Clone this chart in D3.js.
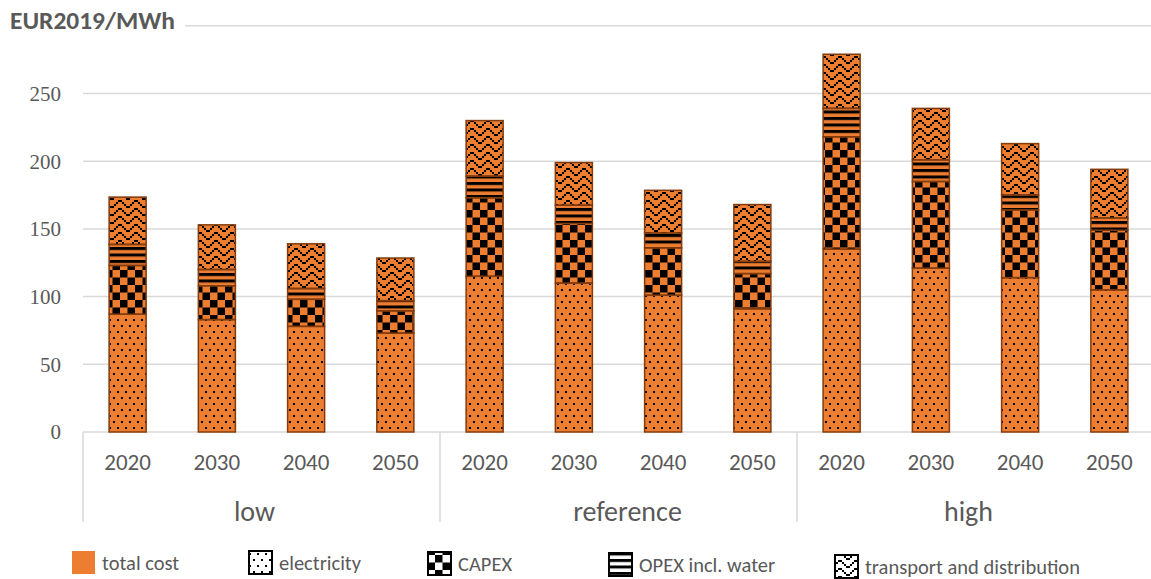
<!DOCTYPE html>
<html>
<head>
<meta charset="utf-8">
<script src="https://cdn.jsdelivr.net/npm/d3@7"></script>
<style>
  html, body { margin: 0; padding: 0; background: #fff; }
  svg { display: block; }
</style>
</head>
<body>
<svg id="chart" width="1151" height="579"></svg>
<script>
// Hydrogen cost breakdown by scenario and year (EUR2019/MWh)
const groups = ["low", "reference", "high"];
const years = ["2020", "2030", "2040", "2050"];
const electricity = [87, 83, 78, 73, 115, 110, 101, 91, 135, 121, 114, 105];
const capex = [36, 25, 20, 16.5, 58, 44, 35, 26, 83, 64, 50, 44];
const opex = [15.5, 12, 8, 7.5, 16, 13.5, 11, 9, 21, 16, 11, 9];
const transport = [35, 33, 33, 31.5, 41, 31.5, 31.5, 42, 40, 38, 38, 36];
const yTicks = [0, 50, 100, 150, 200, 250];
const yTitle = "EUR2019/MWh";
const seriesNames = ["total cost", "electricity", "CAPEX", "OPEX incl. water", "transport and distribution"];

const rows = [];
groups.forEach((g, gi) => years.forEach((yr, yi) => {
  const i = gi * years.length + yi;
  rows.push({ key: g + "-" + yr, group: g, year: yr,
    electricity: electricity[i], capex: capex[i], opex: opex[i], transport: transport[i] });
}));
rows.forEach(r => r.total = r.electricity + r.capex + r.opex + r.transport);

const svg = d3.select("#chart");
const ORANGE = "#ed7d31", EDGE = "#843c0c", GRID = "#d9d9d9", TEXT = "#595959";
const sans = "Carlito, 'Open Sans', sans-serif";
const serif = "'Liberation Serif', 'DejaVu Serif', serif";

const left = 83, right = 1154, bottom = 432;
const x = d3.scaleBand().domain(rows.map(r => r.key)).range([left, right])
  .paddingInner(0.585).paddingOuter(0.2925);
const y = d3.scaleLinear().domain([0, 300]).range([bottom, 25.8]);

// Fill patterns
const defs = svg.append("defs");
const dots = defs.append("pattern").attr("id", "pDots").attr("patternUnits", "userSpaceOnUse")
  .attr("width", 8).attr("height", 12);
dots.append("rect").attr("x", 1).attr("y", 1).attr("width", 2).attr("height", 2).attr("fill", "#000");
dots.append("rect").attr("x", 5).attr("y", 7).attr("width", 2).attr("height", 2).attr("fill", "#000");

const check = defs.append("pattern").attr("id", "pCheck").attr("patternUnits", "userSpaceOnUse")
  .attr("width", 15).attr("height", 15);
check.append("rect").attr("x", 0).attr("y", 0).attr("width", 7.5).attr("height", 7.5).attr("fill", "#000");
check.append("rect").attr("x", 7.5).attr("y", 7.5).attr("width", 7.5).attr("height", 7.5).attr("fill", "#000");

const stripe = defs.append("pattern").attr("id", "pStripe").attr("patternUnits", "userSpaceOnUse")
  .attr("width", 8).attr("height", 6.5);
stripe.append("rect").attr("x", 0).attr("y", 0).attr("width", 8).attr("height", 3).attr("fill", "#000");

const wave = defs.append("pattern").attr("id", "pWave").attr("patternUnits", "userSpaceOnUse")
  .attr("width", 16).attr("height", 8);
[6, 4, 2, 0, 0, 2, 4, 6].forEach((wy, k) => {
  wave.append("rect").attr("x", k * 2).attr("y", wy).attr("width", 2).attr("height", 2).attr("fill", "#000");
});

// Gridlines
yTicks.filter(t => t > 0).forEach(t => {
  svg.append("line").attr("x1", left).attr("x2", 1151).attr("y1", y(t)).attr("y2", y(t))
    .attr("stroke", GRID).attr("stroke-width", 1.5);
});
svg.append("line").attr("x1", 185).attr("x2", 1151).attr("y1", y(300)).attr("y2", y(300))
  .attr("stroke", GRID).attr("stroke-width", 1.5);

// Y axis labels
svg.append("g").selectAll("text").data(yTicks).join("text")
  .attr("x", 61).attr("y", d => y(d)).attr("dy", "0.35em")
  .attr("text-anchor", "end").attr("font-family", serif).attr("font-size", 21)
  .attr("fill", TEXT).text(d => d);

svg.append("text").attr("x", 10).attr("y", 29).attr("font-family", sans)
  .attr("font-weight", "bold").attr("font-size", 24).attr("fill", TEXT)
  .attr("textLength", 165).attr("lengthAdjust", "spacingAndGlyphs").text(yTitle);

// Category axis with group separators
svg.append("line").attr("x1", left).attr("x2", 1151).attr("y1", bottom).attr("y2", bottom)
  .attr("stroke", GRID).attr("stroke-width", 1.5);
const groupW = (right - left) / groups.length;
d3.range(groups.length + 1).forEach(k => {
  svg.append("line").attr("x1", left + k * groupW).attr("x2", left + k * groupW)
    .attr("y1", bottom).attr("y2", 522).attr("stroke", GRID).attr("stroke-width", 1.5);
});
svg.append("g").selectAll("text").data(rows).join("text")
  .attr("x", d => x(d.key) + x.bandwidth() / 2).attr("y", 470)
  .attr("text-anchor", "middle").attr("font-family", sans).attr("font-size", 23)
  .attr("fill", TEXT).text(d => d.year);
const groupNudge = [-7, 9, -7];
svg.append("g").selectAll("text").data(groups).join("text")
  .attr("x", (d, i) => left + (i + 0.5) * groupW + groupNudge[i]).attr("y", 521)
  .attr("text-anchor", "middle").attr("font-family", sans).attr("font-size", 28)
  .attr("fill", TEXT).text(d => d);

// Total cost bars (orange base)
svg.append("g").selectAll("rect").data(rows).join("rect")
  .attr("x", d => x(d.key)).attr("width", x.bandwidth())
  .attr("y", d => y(d.total)).attr("height", d => y(0) - y(d.total))
  .attr("fill", ORANGE);

// Patterned stacked components
const keys = ["electricity", "capex", "opex", "transport"];
const pats = { electricity: "url(#pDots)", capex: "url(#pCheck)", opex: "url(#pStripe)", transport: "url(#pWave)" };
const stacked = d3.stack().keys(keys)(rows);
svg.append("g").selectAll("g").data(stacked).join("g")
  .attr("fill", s => pats[s.key])
  .selectAll("rect").data(s => s).join("rect")
  .attr("x", d => x(d.data.key)).attr("width", x.bandwidth())
  .attr("y", d => y(d[1])).attr("height", d => y(d[0]) - y(d[1]))
  .attr("stroke", EDGE).attr("stroke-width", 1.5);

// Legend
const legendItems = [
  { name: seriesNames[0], x: 72, y: 551, fill: ORANGE, border: false },
  { name: seriesNames[1], x: 249, y: 551, fill: "url(#pDots)", border: true },
  { name: seriesNames[2], x: 428, y: 552, fill: "url(#pCheck)", border: true },
  { name: seriesNames[3], x: 609, y: 553, fill: "url(#pStripe)", border: true },
  { name: seriesNames[4], x: 835, y: 555, fill: "url(#pWave)", border: true }
];
const lg = svg.append("g").selectAll("g").data(legendItems).join("g");
lg.filter(d => d.border).append("rect")
  .attr("x", d => d.x).attr("y", d => d.y).attr("width", 23).attr("height", 23).attr("fill", "#fff");
lg.append("rect")
  .attr("x", d => d.x).attr("y", d => d.y).attr("width", 23).attr("height", 23)
  .attr("fill", d => d.fill)
  .attr("stroke", d => d.border ? "#000" : "none").attr("stroke-width", 2);
lg.append("text")
  .attr("x", d => d.x + 30).attr("y", d => d.y + 12).attr("dy", "0.35em")
  .attr("font-family", sans).attr("font-size", 20.5).attr("fill", TEXT)
  .text(d => d.name);
</script>
</body>
</html>
